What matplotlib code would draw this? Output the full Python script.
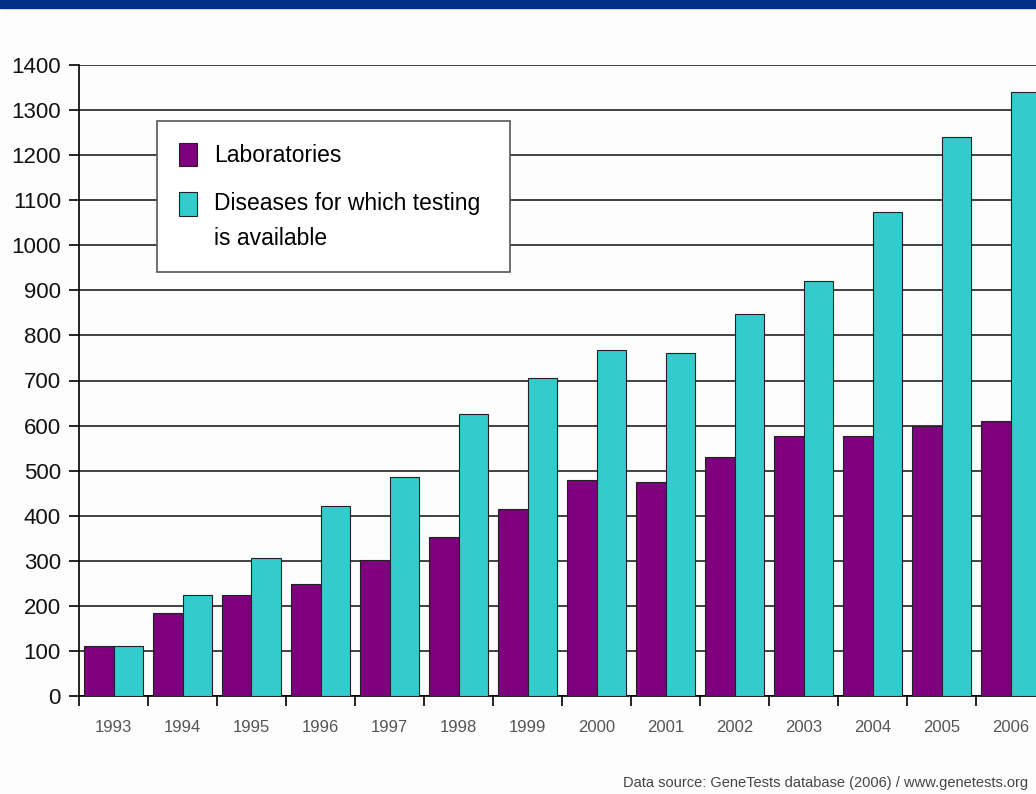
import numpy as np
import matplotlib.pyplot as plt
from matplotlib.patches import Rectangle
from matplotlib.legend_handler import HandlerPatch, update_from_first_child

# =====================================
# DADOS
# =====================================

anos = ["1993", "1994", "1995", "1996", "1997", "1998", "1999",
        "2000", "2001", "2002", "2003", "2004", "2005", "2006"]

laboratorios = [111, 185, 224, 248, 302, 353, 415, 479, 475, 530, 577, 577, 599, 611]
doencas = [111, 224, 306, 421, 486, 626, 706, 768, 761, 848, 921, 1074, 1240, 1339]

roxo = "#7E007E"
ciano = "#33CCCC"

plt.rcParams['font.family'] = ['Liberation Sans', 'DejaVu Sans']


# marcador da legenda alinhado com a primeira linha do texto
class HandlerTopo(HandlerPatch):
    def __init__(self, desloc, **kw):
        super().__init__(update_func=update_from_first_child, **kw)
        self.desloc = desloc

    def create_artists(self, legend, orig_handle, xdescent, ydescent,
                       width, height, fontsize, trans):
        return super().create_artists(legend, orig_handle, xdescent,
                                      ydescent - self.desloc, width, height,
                                      fontsize, trans)


# =====================================
# FIGURA
# =====================================

fig = plt.figure(figsize=(10.36, 7.94), dpi=100, facecolor="#FDFDFD")

# faixa azul no topo
fig.patches.append(Rectangle((0, 1 - 8/794), 1, 8/794, transform=fig.transFigure,
                             color="#003087", zorder=0))

# eixo vai além da borda direita (cortado como no original)
ax = fig.add_axes([79/1036, 1 - 696/794, 966/1036, 631/794])
ax.set_facecolor("#FDFDFD")

x = np.arange(len(anos))
w = 0.43

b1 = ax.bar(x - w/2, laboratorios, w, color=roxo, edgecolor="#222222", linewidth=0.8,
            label="Laboratories", zorder=3)
b2 = ax.bar(x + w/2, doencas, w, color=ciano, edgecolor="#222222", linewidth=0.8,
            label="Diseases for which testing\nis available", zorder=3)

ax.set_xlim(-0.5, len(anos) - 0.5)
ax.set_ylim(0, 1400)

# grade horizontal
ax.set_yticks(np.arange(0, 1401, 100))
ax.yaxis.grid(True, color="#333333", linewidth=1.3, zorder=1)
ax.tick_params(axis="y", direction="out", length=7, width=1.2,
               labelsize=16, labelcolor="#111111", pad=6)

# anos no centro, marcas nas divisões
ax.set_xticks(x)
ax.set_xticklabels(anos)
ax.set_xticks(np.arange(-0.5, len(anos), 1), minor=True)
ax.tick_params(axis="x", which="major", length=0, labelsize=12,
               labelcolor="#555555", pad=17)
ax.tick_params(axis="x", which="minor", direction="out", length=7, width=1.2)

for lado in ["top", "right"]:
    ax.spines[lado].set_visible(False)
ax.spines["left"].set_linewidth(1.2)
ax.spines["bottom"].set_linewidth(1.2)

# legenda
leg = fig.legend(handles=[b1, b2], loc="upper left",
                 bbox_to_anchor=(157/1036, 1 - 272/794, 353/1036, 151/794),
                 mode="expand", borderaxespad=0, fontsize=16.5, frameon=True,
                 fancybox=False, handlelength=0.8, handleheight=1.2,
                 handletextpad=0.75, borderpad=0.95, labelspacing=1.1,
                 handler_map={b2: HandlerTopo(13.5)})
for t in leg.get_texts():
    t.set_linespacing(1.65)
leg.get_frame().set_edgecolor("#555555")
leg.get_frame().set_linewidth(1.2)
leg.get_frame().set_facecolor("white")
leg.get_frame().set_alpha(1)

fig.text(1028/1036, 1 - 783/794,
         "Data source: GeneTests database (2006) / www.genetests.org",
         ha="right", va="center", fontsize=10.5, color="#444444")

plt.savefig("out.png", dpi=100, facecolor=fig.get_facecolor())
